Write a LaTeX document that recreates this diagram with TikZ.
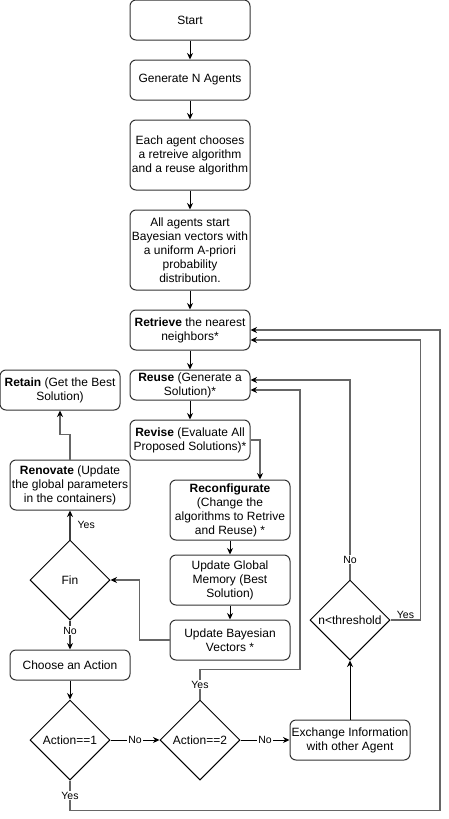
\documentclass[tikz,border=0pt]{standalone}
\usepackage{fontspec}
\setmainfont{Liberation Sans}
\usetikzlibrary{
	shapes.geometric,
	arrows.meta
}
\def\W{120}

\begin{document}
\begin{tikzpicture}[
		x = 1pt, y = -1pt,
		line width = 1pt,
		caja/.style = {
			draw = black!80, rounded corners = 6pt,
			minimum width = \W pt, inner sep = 0pt, align = center,
			font = \fontsize{12}{14}\selectfont
		},
		rombo/.style = {
			draw = black, diamond, aspect = 1,
			minimum size = 80pt, inner sep = 0pt,
			font = \fontsize{12}{14}\selectfont
		},
		flecha/.style = {-{Stealth[length = 6.5pt, width = 6pt, black]}},
		gris/.style = {flecha, draw = black!60, line width = 1.3pt},
		etq/.style = {font = \fontsize{10.5}{12}\selectfont, fill = white, inner sep = 1pt},
	]

	% márgenes del dibujo
	\useasboundingbox (0,0) rectangle (449,819);

	% columna principal
	\node[caja, minimum height = 40pt] (start) at (190,20) {Start};
	\node[caja, minimum height = 40pt] (gen) at (190,80) {Generate N Agents};
	\node[caja, minimum height = 70pt] (each) at (190,155)
		{Each agent chooses\\a retreive algorithm\\and a reuse algorithm};
	\node[caja, minimum height = 80pt] (bayes0) at (190,250)
		{All agents start\\Bayesian vectors with\\a uniform A-priori\\probability\\distribution.};
	\node[caja, minimum height = 40pt] (retr) at (190,330)
		{\textbf{Retrieve} the nearest\\neighbors*};
	\node[caja, minimum height = 30pt] (reuse) at (190,385)
		{\textbf{Reuse} (Generate a\\Solution)*};
	\node[caja, minimum height = 40pt] (revise) at (190,440)
		{\textbf{Revise} (Evaluate All\\Proposed Solutions)*};

	% columna central
	\node[caja, minimum height = 60pt] (reconf) at (230,510)
		{\textbf{Reconfigurate}\\(Change the\\algorithms to Retrive\\and Reuse) *};
	\node[caja, minimum height = 50pt] (mem) at (230,580)
		{Update Global\\Memory (Best\\Solution)};
	\node[caja, minimum height = 40pt] (vec) at (230,640)
		{Update Bayesian\\Vectors *};

	% columna izquierda
	\node[caja, minimum height = 40pt] (retain) at (60,390)
		{\textbf{Retain} (Get the Best\\Solution)};
	\node[caja, minimum height = 50pt] (renov) at (70,485)
		{\textbf{Renovate} (Update\\the global parameters\\in the containers)};
	\node[rombo] (fin) at (70,580) {Fin};
	\node[caja, minimum height = 30pt] (choose) at (70,665) {Choose an Action};

	% decisiones de abajo
	\node[rombo] (act1) at (70,740) {Action==1};
	\node[rombo] (act2) at (200,740) {Action==2};
	\node[caja, minimum height = 40pt] (exch) at (350,740)
		{Exchange Information\\with other Agent};
	\node[rombo] (thr) at (350,620) {n<threshold};

	% flechas de la columna principal
	\draw[flecha] (start) -- (gen);
	\draw[flecha] (gen) -- (each);
	\draw[flecha] (each) -- (bayes0);
	\draw[flecha] (bayes0) -- (retr);
	\draw[flecha] (retr) -- (reuse);
	\draw[flecha] (reuse) -- (revise);

	\draw[gris] (revise.east) -| ([xshift = 30pt]reconf.north);
	\draw[flecha] (reconf) -- (mem);
	\draw[flecha] (mem) -- (vec);
	\draw[gris] (vec.west) -- ++(-30,0) |- (fin.east);

	% salida de Fin
	\draw[gris, draw = black!75] (fin.north)
		-- node[etq, fill = none, right = 6pt] {Yes} (renov.south);
	\draw[gris] (renov.north) -- ++(0,-25) -| (retain.south);
	\draw[gris, draw = black!75] (fin.south)
		-- node[etq, pos = 0.35] {No} (choose.north);
	\draw[flecha] (choose) -- (act1);

	% acciones
	\draw[flecha] (act1.east) -- node[etq] {No} (act2.west);
	\draw[flecha] (act2.east) -- node[etq] {No} (exch.west);
	\draw[flecha] (exch.north) -- (thr.south);

	% lazos de vuelta
	\draw[gris] (act2.north)
		-- node[etq] {Yes} ++(0,-30)
		-- ++(100,0) |- ([yshift = -5pt]reuse.east);
	\draw[gris] (thr.north)
		|- node[etq, pos = 0.05] {No} ([yshift = 5pt]reuse.east);
	\draw[gris] (thr.east)
		-- node[etq, fill = none, above] {Yes} ++(30,0)
		|- ([yshift = -10pt]retr.east);
	\draw[gris] (act1.south)
		-- node[etq] {Yes} ++(0,30)
		-- ++(370,0) |- (retr.east);

\end{tikzpicture}
\end{document}
